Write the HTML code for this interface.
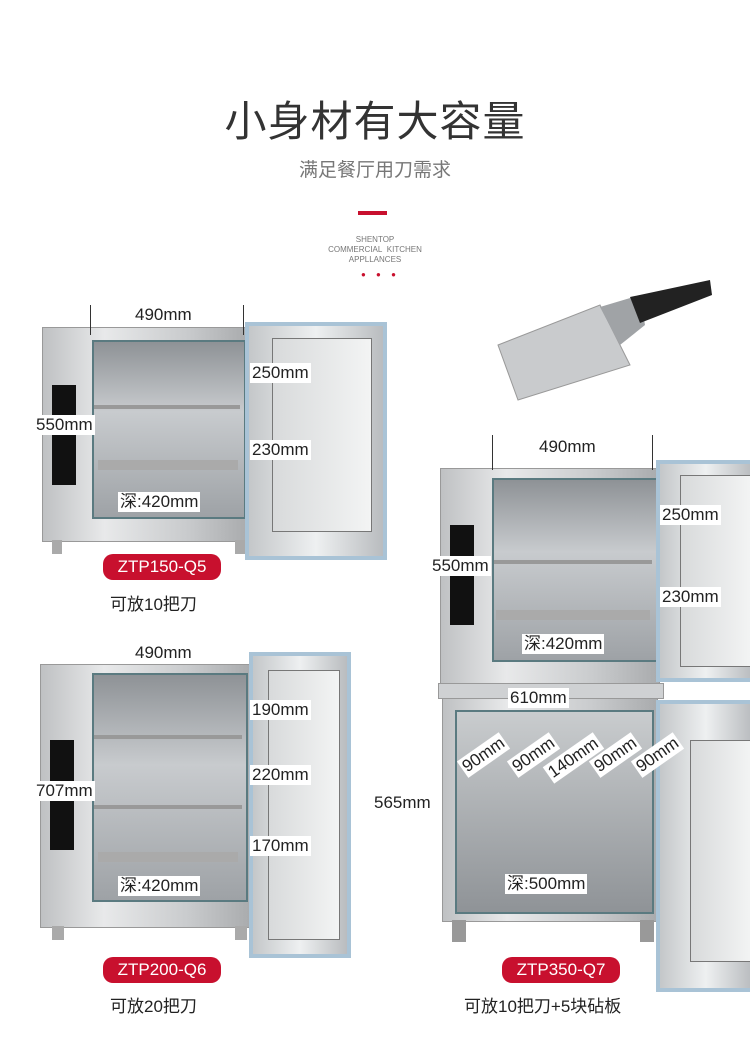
<!DOCTYPE html>
<html><head><meta charset="utf-8"><style>
body{margin:0;width:750px;height:1042px;background:#fff;position:relative;overflow:hidden;font-family:"Liberation Sans","Noto Sans CJK SC",sans-serif}
.a{position:absolute}
.t{position:absolute;font-size:17px;color:#222;background:#fff;padding:0 2px;line-height:20px;white-space:nowrap}
.body{position:absolute;background:linear-gradient(90deg,#bfc1c3,#e8e9ea 30%,#c9cbcd 70%,#a9abad);border:1px solid #999}
.in{position:absolute;background:linear-gradient(180deg,#8e9296,#c8cbce 40%,#9ea2a6);border:2px solid #5a7a80}
.door{position:absolute;background:linear-gradient(90deg,#c4c7c9,#eef0f1 50%,#b9bcbf);border:4px solid #a9c3d6;box-sizing:border-box}
.dw{position:absolute;background:linear-gradient(90deg,#d8dadb,#f3f4f4);border:1px solid #777}
.panel{position:absolute;background:#111}
.tag{position:absolute;background:#c8102e;color:#fff;font-size:17px;border-radius:10px;text-align:center;line-height:26px}
.cap{position:absolute;font-size:17px;color:#222}
.sh{position:absolute;background:#999;height:4px}
.ln{position:absolute;background:#333}
</style></head><body>
<div class="a" style="top:88px;width:750px;text-align:center;font-size:42px;color:#333;letter-spacing:1px">小身材有大容量</div>
<div class="a" style="top:155px;width:750px;text-align:center;font-size:19px;color:#777">满足餐厅用刀需求</div>
<div class="a" style="left:358px;top:211px;width:29px;height:4px;background:#c8102e"></div>
<div class="a" style="top:235px;width:750px;text-align:center;font-size:8px;color:#777;line-height:10px">SHENTOP<br>COMMERCIAL&nbsp; KITCHEN<br>APPLLANCES</div>
<div class="a" style="left:361px;top:270px;font-size:8px;color:#c8102e;letter-spacing:4px">● ● ●</div>

<!-- knife -->
<svg class="a" style="left:490px;top:275px" width="225" height="130"><polygon points="8,70 110,30 140,90 28,125" fill="#c9cbcd" stroke="#999"/><polygon points="110,32 150,20 155,50 130,70" fill="#a0a3a6"/><polygon points="140,22 220,5 222,20 150,48" fill="#222"/></svg>

<!-- cabinet 1 -->
<div class="body" style="left:42px;top:327px;width:205px;height:213px"></div>
<div class="in" style="left:92px;top:340px;width:150px;height:175px"></div>
<div class="sh" style="left:94px;top:405px;width:146px"></div>
<div class="sh" style="left:98px;top:460px;width:140px;height:10px;background:#aaa"></div>
<div class="panel" style="left:52px;top:385px;width:24px;height:100px"></div>
<div class="door" style="left:245px;top:322px;width:142px;height:238px"></div>
<div class="dw" style="left:272px;top:338px;width:98px;height:192px"></div>
<div class="a" style="left:52px;top:540px;width:10px;height:14px;background:#aaa"></div>
<div class="a" style="left:235px;top:540px;width:10px;height:14px;background:#aaa"></div>
<div class="ln" style="left:90px;top:305px;width:1px;height:30px"></div>
<div class="ln" style="left:243px;top:305px;width:1px;height:30px"></div>
<div class="t" style="left:133px;top:305px">490mm</div>
<div class="t" style="left:250px;top:363px">250mm</div>
<div class="t" style="left:250px;top:440px">230mm</div>
<div class="t" style="left:34px;top:415px">550mm</div>
<div class="t" style="left:118px;top:492px">深:420mm</div>
<div class="tag" style="left:103px;top:554px;width:118px">ZTP150-Q5</div>
<div class="cap" style="left:110px;top:590px">可放10把刀</div>

<!-- cabinet 2 -->
<div class="body" style="left:40px;top:664px;width:210px;height:262px"></div>
<div class="in" style="left:92px;top:673px;width:152px;height:225px"></div>
<div class="sh" style="left:94px;top:735px;width:148px"></div>
<div class="sh" style="left:94px;top:805px;width:148px"></div>
<div class="sh" style="left:98px;top:852px;width:140px;height:10px;background:#aaa"></div>
<div class="panel" style="left:50px;top:740px;width:24px;height:110px"></div>
<div class="door" style="left:249px;top:652px;width:102px;height:306px"></div>
<div class="dw" style="left:268px;top:670px;width:70px;height:268px"></div>
<div class="a" style="left:52px;top:926px;width:12px;height:14px;background:#aaa"></div>
<div class="a" style="left:235px;top:926px;width:12px;height:14px;background:#aaa"></div>
<div class="t" style="left:133px;top:643px">490mm</div>
<div class="t" style="left:250px;top:700px">190mm</div>
<div class="t" style="left:250px;top:765px">220mm</div>
<div class="t" style="left:34px;top:781px">707mm</div>
<div class="t" style="left:250px;top:836px">170mm</div>
<div class="t" style="left:118px;top:876px">深:420mm</div>
<div class="tag" style="left:103px;top:957px;width:118px">ZTP200-Q6</div>
<div class="cap" style="left:110px;top:992px">可放20把刀</div>

<!-- cabinet 3 top -->
<div class="body" style="left:440px;top:468px;width:218px;height:215px"></div>
<div class="in" style="left:492px;top:478px;width:162px;height:180px"></div>
<div class="sh" style="left:494px;top:560px;width:158px"></div>
<div class="sh" style="left:496px;top:610px;width:154px;height:10px;background:#aaa"></div>
<div class="panel" style="left:450px;top:525px;width:24px;height:100px"></div>
<div class="door" style="left:656px;top:460px;width:100px;height:222px"></div>
<div class="dw" style="left:680px;top:475px;width:70px;height:190px"></div>
<div class="ln" style="left:492px;top:435px;width:1px;height:35px"></div>
<div class="ln" style="left:652px;top:435px;width:1px;height:35px"></div>
<div class="t" style="left:537px;top:437px">490mm</div>
<div class="t" style="left:660px;top:505px">250mm</div>
<div class="t" style="left:660px;top:587px">230mm</div>
<div class="t" style="left:430px;top:556px">550mm</div>
<div class="t" style="left:522px;top:634px">深:420mm</div>
<!-- stand -->
<div class="a" style="left:438px;top:683px;width:224px;height:14px;background:#cfd1d3;border:1px solid #999"></div>
<div class="body" style="left:442px;top:698px;width:214px;height:222px"></div>
<div class="in" style="left:455px;top:710px;width:195px;height:200px;background:linear-gradient(180deg,#c9ccce,#8f9397)"></div>
<div class="door" style="left:656px;top:700px;width:100px;height:292px"></div>
<div class="dw" style="left:690px;top:740px;width:60px;height:220px"></div>
<div class="a" style="left:452px;top:920px;width:14px;height:22px;background:#999"></div>
<div class="a" style="left:640px;top:920px;width:14px;height:22px;background:#999"></div>
<div class="t" style="left:508px;top:688px">610mm</div>
<div class="t" style="left:372px;top:793px">565mm</div>
<div class="t" style="left:458px;top:745px;transform:rotate(-35deg)">90mm</div>
<div class="t" style="left:508px;top:745px;transform:rotate(-35deg)">90mm</div>
<div class="t" style="left:543px;top:748px;transform:rotate(-35deg)">140mm</div>
<div class="t" style="left:590px;top:745px;transform:rotate(-35deg)">90mm</div>
<div class="t" style="left:632px;top:745px;transform:rotate(-35deg)">90mm</div>
<div class="t" style="left:505px;top:874px">深:500mm</div>
<div class="tag" style="left:502px;top:957px;width:118px">ZTP350-Q7</div>
<div class="cap" style="left:464px;top:992px">可放10把刀+5块砧板</div>
</body></html>
